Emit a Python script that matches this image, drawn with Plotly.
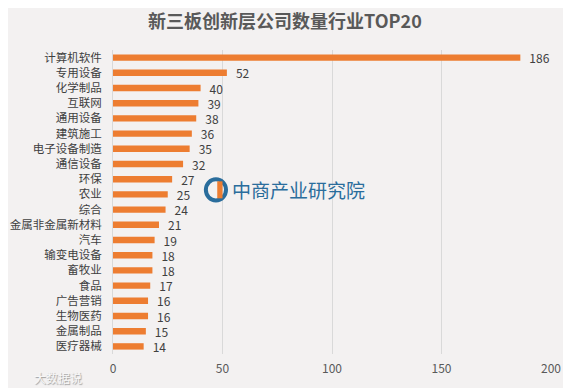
import plotly.graph_objects as go

categories = ["计算机软件", "专用设备", "化学制品", "互联网", "通用设备", "建筑施工",
              "电子设备制造", "通信设备", "环保", "农业", "综合", "金属非金属新材料",
              "汽车", "输变电设备", "畜牧业", "食品", "广告营销", "生物医药", "金属制品", "医疗器械"]
values = [186, 52, 40, 39, 38, 36, 35, 32, 27, 25, 24, 21, 19, 18, 18, 17, 16, 16, 15, 14]
x_ticks = [0, 50, 100, 150, 200]

font_family = "Noto Sans CJK SC, Microsoft YaHei, sans-serif"

fig = go.Figure(go.Bar(
    x=values, y=categories, orientation="h",
    marker=dict(color="#ed7d31", line=dict(width=0)),
    width=0.42,
    text=["\u2002" + str(v) for v in values], textposition="outside",
    constraintext="none",
    textfont=dict(color="#404040", size=12, family=font_family),
    cliponaxis=False,
))

# page body has an 8px margin, so the figure is offset by 8px right/down
fig.update_layout(
    width=571, height=388,
    margin=dict(l=105, r=28, t=42, b=42, autoexpand=False),
    paper_bgcolor="#f3f1f1", plot_bgcolor="#f3f1f1",
    title=dict(text="<b>新三板创新层公司数量行业TOP20</b>", x=0.485, xanchor="center",
               y=0.964, yanchor="middle",
               font=dict(size=18, color="#595959", family=font_family)),
    showlegend=False,
    font=dict(family=font_family, color="#595959", size=12),
)
fig.update_xaxes(range=[0, 200], tickvals=x_ticks, showgrid=True, gridcolor="#d9d9d9",
                 gridwidth=1, zeroline=False, showline=False, ticks="", automargin=False,
                 ticklabelstandoff=6, tickfont=dict(size=12, color="#595959"))
fig.update_yaxes(autorange="reversed", showgrid=False, zeroline=False, automargin=False,
                 showline=True, linecolor="#d9d9d9", ticks="", ticklabelstandoff=8,
                 tickfont=dict(size=11.5, color="#404040"))

# central watermark logo + text
fig.add_shape(type="circle", xref="paper", yref="paper",
              x0=0.212, x1=0.258, y0=0.505, y1=0.575,
              line=dict(color="#2a6d9c", width=4), fillcolor="rgba(0,0,0,0)")
fig.add_shape(type="rect", xref="paper", yref="paper",
              x0=0.238, x1=0.25, y0=0.512, y1=0.568,
              line=dict(width=0), fillcolor="#ed7d31")
fig.add_annotation(text="中商产业研究院", x=0.268, y=0.54, xref="paper", yref="paper",
                   showarrow=False, font=dict(size=19, color="#2a6d9c", family=font_family),
                   xanchor="left", yanchor="middle")
fig.add_annotation(text="大数据说", x=-0.185, y=-0.076, xref="paper", yref="paper",
                   showarrow=False,
                   font=dict(size=12, color="#f7f7f7", family=font_family,
                             shadow="1px 1px 1px #9a9a9a"),
                   xanchor="left", yanchor="middle")

fig.write_html("out.html")
